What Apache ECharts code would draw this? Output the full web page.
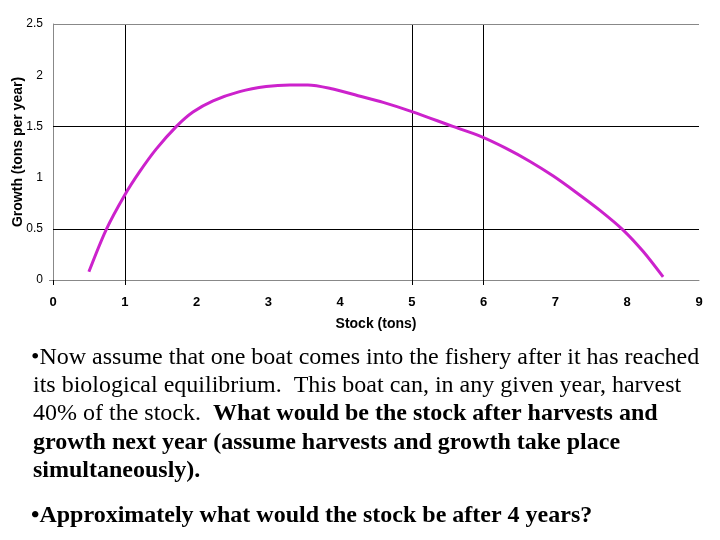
<!DOCTYPE html>
<html>
<head>
<meta charset="utf-8">
<script src="https://cdn.jsdelivr.net/npm/echarts@6/dist/echarts.min.js"></script>
<style>
html,body{margin:0;padding:0;background:#fff;}
#chart{width:720px;height:540px;}
</style>
</head>
<body>
<div id="chart"></div>
<script>
var stock  = [0.5, 0.74, 1.0, 1.21, 1.44, 1.72, 1.95, 2.23, 2.6, 2.97, 3.3, 3.55, 3.9, 4.25, 4.6, 5.0, 5.57, 5.95, 6.3, 6.64, 6.97, 7.29, 7.62, 7.94, 8.22, 8.5];
var growth = [0.08, 0.49, 0.83, 1.06, 1.28, 1.5, 1.64, 1.75, 1.84, 1.89, 1.905, 1.905, 1.865, 1.8, 1.735, 1.645, 1.5, 1.405, 1.29, 1.16, 1.015, 0.855, 0.68, 0.49, 0.28, 0.03];
var xTicks = [0, 1, 2, 3, 4, 5, 6, 7, 8, 9];
var yTicks = [0, 0.5, 1, 1.5, 2, 2.5];
var vLines = [1, 5, 6];
var hLines = [0.5, 1.5];

var pts = stock.map(function (s, i) { return [s, growth[i]]; });

var serif = '"Liberation Serif", "Times New Roman", serif';
var sans = '"Liberation Sans", Arial, sans-serif';
var fs = 24;
var textLines = [
  { y: 356, x: 31, parts: [['n', '\u2022Now assume that one boat comes into the fishery after it has reached']] },
  { y: 384, x: 33, parts: [['n', 'its biological equilibrium.  This boat can, in any given year, harvest']] },
  { y: 412, x: 33, parts: [['n', '40% of the stock.  '], ['b', 'What would be the stock after harvests and']] },
  { y: 441, x: 33, parts: [['b', 'growth next year (assume harvests and growth take place']] },
  { y: 469, x: 33, parts: [['b', 'simultaneously).']] },
  { y: 514, x: 31, parts: [['b', '\u2022Approximately what would the stock be after 4 years?']] }
];

var graphics = textLines.map(function (l) {
  return {
    type: 'text', left: l.x, top: l.y - 10, silent: true,
    style: {
      text: l.parts.map(function (p) { return '{' + p[0] + '|' + p[1] + '}'; }).join(''),
      rich: {
        n: { fontFamily: serif, fontSize: fs, fill: '#000' },
        b: { fontFamily: serif, fontSize: fs, fontWeight: 'bold', fill: '#000' }
      }
    }
  };
});

var markData = [];
vLines.forEach(function (v) { markData.push({ xAxis: v, lineStyle: { color: '#000', width: 1, type: 'solid' } }); });
hLines.forEach(function (v) { markData.push({ yAxis: v, lineStyle: { color: '#000', width: 1, type: 'solid' } }); });
markData.push({ yAxis: 2.5, lineStyle: { color: '#888', width: 1, type: 'solid' } });

var chart = echarts.init(document.getElementById('chart'));
chart.setOption({
  animation: false,
  backgroundColor: '#fff',
  grid: { left: 53, right: 21, top: 24, bottom: 260, containLabel: false, outerBoundsMode: 'none' },
  xAxis: {
    type: 'value', min: 0, max: 9, interval: 1,
    name: 'Stock (tons)', nameLocation: 'middle', nameGap: 37, nameMoveOverlap: false,
    nameTextStyle: { fontFamily: sans, fontSize: 14, fontWeight: 'bold', color: '#000' },
    axisLine: { show: true, lineStyle: { color: '#888', width: 1 } },
    axisTick: { show: true, customValues: [0, 1, 5, 6], length: 5, lineStyle: { color: '#000' } },
    axisLabel: { fontFamily: sans, fontSize: 13, fontWeight: 'bold', color: '#000', margin: 16, customValues: xTicks },
    splitLine: { show: false }
  },
  yAxis: {
    type: 'value', min: 0, max: 2.5, interval: 0.5,
    name: 'Growth (tons per year)', nameLocation: 'middle', nameGap: 28, nameRotate: 90, nameMoveOverlap: false,
    nameTextStyle: { fontFamily: sans, fontSize: 14, fontWeight: 'bold', color: '#000' },
    axisLine: { show: true, lineStyle: { color: '#888', width: 1 } },
    axisTick: { show: true, customValues: [0], length: 4, lineStyle: { color: '#888' } },
    axisLabel: { fontFamily: sans, fontSize: 12, color: '#000', margin: 10, customValues: yTicks,
                 formatter: function (v) { return String(v); } },
    splitLine: { show: false }
  },
  series: [{
    type: 'line', data: pts, smooth: 0.3, showSymbol: false, symbol: 'none',
    lineStyle: { color: '#CC22CC', width: 3 },
    itemStyle: { color: '#CC22CC' },
    z: 5,
    markLine: {
      silent: true, symbol: ['none', 'none'], label: { show: false },
      emphasis: { disabled: true },
      data: markData, z: 2
    }
  }],
  graphic: graphics
});
</script>
</body>
</html>
